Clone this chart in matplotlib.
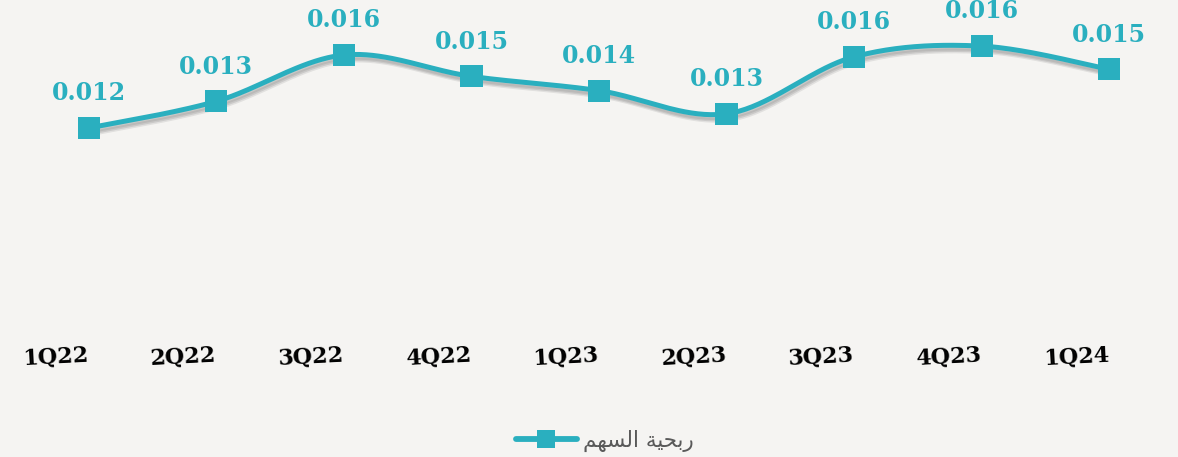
import numpy as np
import matplotlib
matplotlib.use("Agg")
import matplotlib.pyplot as plt
import matplotlib.patheffects as pe
from matplotlib.lines import Line2D
from matplotlib.transforms import ScaledTranslation

categories = ["1Q22", "2Q22", "3Q22", "4Q22", "1Q23", "2Q23", "3Q23", "4Q23", "1Q24"]
eps_values = [0.0119, 0.0134, 0.0160, 0.0148, 0.0140, 0.0127, 0.0159, 0.0165, 0.0152]
value_labels = ["0.012", "0.013", "0.016", "0.015", "0.014", "0.013", "0.016", "0.016", "0.015"]
series_name = "ربحية السهم"
# pre-shaped (presentation forms, visual order) for matplotlib's LTR renderer
series_name_visual = "\uFEE2\uFEEC\uFEB4\uFEDF\uFE8D \uFE94\uFEF4\uFEA4\uFE91\uFEAD"

BG = "#f5f4f2"
TEAL = "#2aafbf"

fig = plt.figure(figsize=(11.78, 4.57), dpi=100, facecolor=BG)
ax = fig.add_axes([25 / 1178, 0.256, (1173 - 25) / 1178, 0.9576 - 0.256])
ax.set_facecolor(BG)

x = np.arange(len(eps_values))
y = np.array(eps_values)

# smooth curve (Catmull-Rom) through the data points, like a spreadsheet "smoothed line"
def catmull_rom(xs, ys, n=40):
    P = np.column_stack([xs, ys]).astype(float)
    P = np.vstack([P[0], P, P[-1]])
    out = []
    for i in range(1, len(P) - 2):
        p0, p1, p2, p3 = P[i - 1], P[i], P[i + 1], P[i + 2]
        t = np.linspace(0, 1, n, endpoint=(i == len(P) - 3))[:, None]
        seg = 0.5 * ((2 * p1) + (-p0 + p2) * t + (2 * p0 - 5 * p1 + 4 * p2 - p3) * t ** 2
                     + (-p0 + 3 * p1 - 3 * p2 + p3) * t ** 3)
        out.append(seg)
    out = np.vstack(out)
    return out[:, 0], out[:, 1]

sx, sy = catmull_rom(x, y)
shadow = [pe.SimpleLineShadow(offset=(2, -4), shadow_color="#000000", alpha=0.08),
          pe.SimpleLineShadow(offset=(1.5, -3), shadow_color="#000000", alpha=0.10),
          pe.SimpleLineShadow(offset=(1, -2), shadow_color="#000000", alpha=0.08),
          pe.Normal()]
ax.plot(sx, sy, color=TEAL, lw=3.6, solid_capstyle="round", path_effects=shadow, zorder=3)
ax.plot(x, y, linestyle="none", marker="s", markersize=16, color=TEAL,
        markeredgewidth=0, path_effects=shadow, zorder=4)

for xi, yi, lab in zip(x, y, value_labels):
    ax.annotate(lab, (xi, yi), xytext=(0, 25), textcoords="offset points",
                ha="center", va="center", fontsize=17, fontweight="bold",
                family="DejaVu Serif", color=TEAL, zorder=5)

ax.set_xlim(-0.5, len(eps_values) - 0.5)
ax.set_ylim(0, 0.018)
ax.set_xticks(x)
ax.set_xticklabels(categories, fontsize=16, fontweight="bold", family="DejaVu Serif",
                   color="#000000", rotation=3)
ax.tick_params(axis="x", length=0, pad=3)
shift = ScaledTranslation(-33 / 100, 0, fig.dpi_scale_trans)
for lbl in ax.get_xticklabels():
    lbl.set_transform(lbl.get_transform() + shift)
ax.set_yticks([])
for s in ax.spines.values():
    s.set_visible(False)

handle = Line2D([], [], color=TEAL, lw=4.2, marker="s", markersize=13, markeredgewidth=0,
                solid_capstyle="round")
fig.legend([handle], [series_name_visual], loc="center", bbox_to_anchor=(605 / 1178, 1 - 441 / 457),
           frameon=False, handlelength=2.8, handletextpad=0.3,
           prop={"family": "DejaVu Sans", "size": 15.5}, labelcolor="#595959")

fig.savefig("out.png", dpi=100, facecolor=BG)
